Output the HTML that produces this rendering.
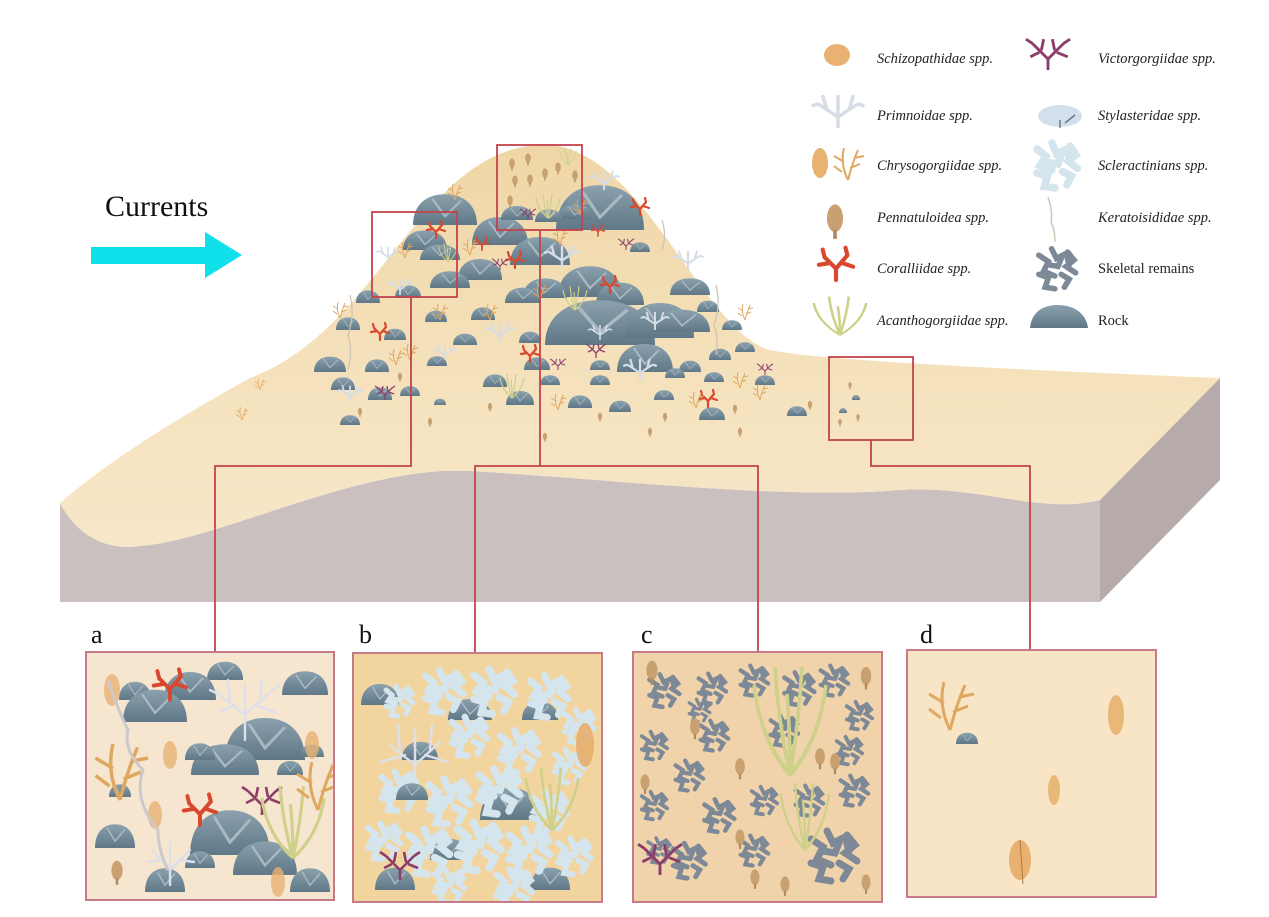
<!DOCTYPE html>
<html><head><meta charset="utf-8"><style>
html,body{margin:0;padding:0;background:#fff;}
svg{display:block;}
text{font-family:"Liberation Serif",serif;}
.lg{font-size:14.5px;font-style:italic;fill:#222;}
</style></head><body>
<svg width="1269" height="917" viewBox="0 0 1269 917" xmlns="http://www.w3.org/2000/svg">
<defs>
<linearGradient id="sand" x1="0" y1="0" x2="0" y2="1">
<stop offset="0" stop-color="#efd6a6"/><stop offset="0.6" stop-color="#f5e2bd"/><stop offset="1" stop-color="#f7e7c8"/>
</linearGradient>
<linearGradient id="rockg" x1="0" y1="0" x2="0" y2="1">
<stop offset="0" stop-color="#8ba1ae"/><stop offset="1" stop-color="#5f7786"/>
</linearGradient>
<clipPath id="ca"><rect x="86" y="652" width="248" height="248"/></clipPath>
<clipPath id="cb"><rect x="353" y="653" width="249" height="249"/></clipPath>
<clipPath id="cc"><rect x="633" y="652" width="249" height="250"/></clipPath>
<g id="rk"><path d="M-10,0 C-10,-9 -6,-14 0,-14 C6,-14 10,-9 10,0 Z" fill="url(#rockg)"/><path d="M-4,-12 L0,-4 L5,-11" stroke="#a8b9c3" stroke-width="0.8" fill="none"/></g>
<g id="sk" stroke="#7d8996" stroke-width="3.5" stroke-linecap="round" fill="none">
<path d="M-12,-8 l6,4 l-3,6 l7,3 M-4,-12 l3,6 l6,-3 l2,7 M6,-10 l4,5 l-5,4 l6,4 M-12,4 l6,2 l-2,6 l6,1 M2,4 l5,3 l-3,5 M-6,-2 l6,1 l2,-5"/></g>
<g id="sc" stroke="#d5e5ee" stroke-width="5" stroke-linecap="round" fill="none">
<path d="M-14,-10 l6,5 l-4,6 l8,3 M-4,-14 l3,7 l7,-3 l2,8 M8,-12 l4,6 l-5,4 l6,5 M-14,6 l7,2 l-2,7 l7,1 M3,5 l6,3 l-3,6 M-7,-1 l7,1 l2,-6"/></g>
<g id="pen"><ellipse cx="0" cy="-6" rx="3.5" ry="6" fill="#c9a070"/><rect x="-0.8" y="-1" width="1.6" height="4" fill="#b08a60"/></g>
<g id="cor" stroke="#d9482e" stroke-width="2.2" stroke-linecap="round" fill="none"><path d="M0,0 L0,-6 L-6,-12 M0,-6 L6,-13 M-3,-9 L-9,-8 M3,-9 L9,-7 M-6,-12 L-7,-16 M6,-13 L5,-17"/></g>
<g id="vic" stroke="#8c3d6a" stroke-width="1.3" fill="none"><path d="M0,0 L0,-5 L-7,-12 M0,-5 L7,-12 M-4,-8 L-8,-6 M4,-8 L9,-6 M-3,-9 L-2,-14 M3,-9 L2,-14 M-7,-12 L-10,-14 M7,-12 L10,-14"/></g>
<g id="acn" stroke="#cfd08a" stroke-width="1.2" fill="none"><path d="M0,0 Q-10,-8 -12,-20 M0,0 Q-4,-12 -5,-24 M0,0 Q3,-12 4,-24 M0,0 Q10,-8 12,-20 M0,0 Q0,-10 -1,-18"/></g>
<g id="stl" stroke="#d6dde6" stroke-width="1.6" fill="none"><path d="M0,0 L0,-5 L-9,-11 M0,-5 L9,-11 M-5,-8 L-7,-15 M5,-8 L7,-15 M0,-5 L0,-15 M-9,-11 L-12,-10 M9,-11 L12,-10"/></g>
<g id="chr" stroke="#e0a760" stroke-width="1" fill="none"><path d="M0,0 Q-4,-8 -2,-16 M0,0 Q2,-8 5,-15 M-3,-4 L-7,-7 M-2,-9 L-7,-12 M1,-6 L6,-8 M3,-11 L8,-12"/></g>
</defs>

<text x="105" y="216" font-size="30" fill="#111">Currents</text>
<path d="M91,247 L205,247 L205,232 L242,255 L205,278 L205,264 L91,264 Z" fill="#0fe0ea"/>

<path d="M60,503 C80,540 110,550 140,546 C220,540 360,465 470,471 C600,478 780,500 900,490 C980,485 1040,515 1100,500 L1100,602 L60,602 Z" fill="#cbc0c0"/>
<path d="M1100,500 L1220,378 L1220,480 L1100,602 Z" fill="#b6aaaa"/>
<path d="M60,503 Q120,450 250,378 C380,330 420,150 540,145 C640,140 700,330 770,350 Q820,362 1220,378 L1100,500 C1040,515 980,485 900,490 C780,500 600,478 470,471 C360,465 220,540 140,546 C110,550 80,540 60,503 Z" fill="url(#sand)"/>

<g>
<use href="#rk" transform="translate(445,225) scale(3.2,2.2)"/>
<use href="#rk" transform="translate(500,245) scale(2.8,2)"/>
<use href="#rk" transform="translate(480,280) scale(2.2,1.5)"/>
<use href="#rk" transform="translate(425,250) scale(2.2,1.4)"/>
<use href="#rk" transform="translate(540,265) scale(3,2)"/>
<use href="#rk" transform="translate(600,230) scale(4.4,3.2)"/>
<use href="#rk" transform="translate(590,297) scale(3.2,2.2)"/>
<use href="#rk" transform="translate(545,298) scale(2.2,1.4)"/>
<use href="#rk" transform="translate(620,305) scale(2.4,1.6)"/>
<use href="#rk" transform="translate(600,345) scale(5.5,3.2)"/>
<use href="#rk" transform="translate(690,295) scale(2,1.2)"/>
<use href="#rk" transform="translate(660,338) scale(3.4,2.5)"/>
<use href="#rk" transform="translate(645,372) scale(2.8,2)"/>
<use href="#rk" transform="translate(682,332) scale(2.8,1.6)"/>
<use href="#rk" transform="translate(440,260) scale(2,1.1)"/>
<use href="#rk" transform="translate(450,288) scale(2,1.2)"/>
<use href="#rk" transform="translate(523,303) scale(1.8,1.1)"/>
<use href="#rk" transform="translate(575,219) scale(1.6,1)"/>
<use href="#rk" transform="translate(549,222) scale(1.4,0.9)"/>
<use href="#rk" transform="translate(517,220) scale(1.6,1)"/>
<use href="#rk" transform="translate(368,303) scale(1.2,0.9)"/>
<use href="#rk" transform="translate(408,298) scale(1.3,0.9)"/>
<use href="#rk" transform="translate(436,322) scale(1.1,0.8)"/>
<use href="#rk" transform="translate(348,330) scale(1.2,0.9)"/>
<use href="#rk" transform="translate(483,320) scale(1.2,0.9)"/>
<use href="#rk" transform="translate(530,343) scale(1.1,0.8)"/>
<use href="#rk" transform="translate(465,345) scale(1.2,0.8)"/>
<use href="#rk" transform="translate(437,366) scale(1,0.7)"/>
<use href="#rk" transform="translate(395,340) scale(1.1,0.8)"/>
<use href="#rk" transform="translate(330,372) scale(1.6,1.1)"/>
<use href="#rk" transform="translate(377,372) scale(1.2,0.9)"/>
<use href="#rk" transform="translate(343,390) scale(1.2,0.9)"/>
<use href="#rk" transform="translate(380,400) scale(1.2,0.9)"/>
<use href="#rk" transform="translate(410,396) scale(1,0.7)"/>
<use href="#rk" transform="translate(350,425) scale(1,0.7)"/>
<use href="#rk" transform="translate(440,405) scale(0.6,0.45)"/>
<use href="#rk" transform="translate(495,387) scale(1.2,0.9)"/>
<use href="#rk" transform="translate(537,370) scale(1.3,0.9)"/>
<use href="#rk" transform="translate(550,385) scale(1,0.7)"/>
<use href="#rk" transform="translate(520,405) scale(1.4,1)"/>
<use href="#rk" transform="translate(580,408) scale(1.2,0.9)"/>
<use href="#rk" transform="translate(620,412) scale(1.1,0.8)"/>
<use href="#rk" transform="translate(600,385) scale(1,0.7)"/>
<use href="#rk" transform="translate(600,370) scale(1,0.7)"/>
<use href="#rk" transform="translate(690,372) scale(1.1,0.8)"/>
<use href="#rk" transform="translate(720,360) scale(1.1,0.8)"/>
<use href="#rk" transform="translate(714,382) scale(1,0.7)"/>
<use href="#rk" transform="translate(745,352) scale(1,0.7)"/>
<use href="#rk" transform="translate(675,378) scale(1,0.7)"/>
<use href="#rk" transform="translate(712,420) scale(1.3,0.9)"/>
<use href="#rk" transform="translate(765,385) scale(1,0.7)"/>
<use href="#rk" transform="translate(797,416) scale(1,0.7)"/>
<use href="#rk" transform="translate(664,400) scale(1,0.7)"/>
<use href="#rk" transform="translate(708,312) scale(1.1,0.8)"/>
<use href="#rk" transform="translate(732,330) scale(1,0.7)"/>
<use href="#rk" transform="translate(640,252) scale(1,0.7)"/>
<use href="#rk" transform="translate(843,413) scale(0.4,0.35)"/>
<use href="#rk" transform="translate(856,400) scale(0.4,0.35)"/>
<use href="#cor" transform="translate(436,238)"/>
<use href="#cor" transform="translate(482,250) scale(0.8)"/>
<use href="#cor" transform="translate(515,268)"/>
<use href="#cor" transform="translate(640,215)"/>
<use href="#cor" transform="translate(610,293)"/>
<use href="#cor" transform="translate(380,340)"/>
<use href="#cor" transform="translate(530,362)"/>
<use href="#cor" transform="translate(708,407)"/>
<use href="#cor" transform="translate(598,236) scale(0.7)"/>
<use href="#vic" transform="translate(385,400)"/>
<use href="#vic" transform="translate(558,370) scale(0.8)"/>
<use href="#vic" transform="translate(596,358)"/>
<use href="#vic" transform="translate(765,375) scale(0.8)"/>
<use href="#vic" transform="translate(528,220) scale(0.8)"/>
<use href="#vic" transform="translate(500,270) scale(0.8)"/>
<use href="#vic" transform="translate(626,250) scale(0.8)"/>
<use href="#acn" transform="translate(548,218)"/>
<use href="#acn" transform="translate(512,398)"/>
<use href="#acn" transform="translate(575,310)"/>
<use href="#acn" transform="translate(448,262) scale(0.8)"/>
<use href="#acn" transform="translate(568,165) scale(0.7)"/>
<use href="#stl" transform="translate(604,190) scale(1.3)"/>
<use href="#stl" transform="translate(688,270) scale(1.3)"/>
<use href="#stl" transform="translate(562,268) scale(1.5)"/>
<use href="#stl" transform="translate(500,342) scale(1.3)"/>
<use href="#stl" transform="translate(640,380) scale(1.4)"/>
<use href="#stl" transform="translate(655,330) scale(1.2)"/>
<use href="#stl" transform="translate(388,262)"/>
<use href="#stl" transform="translate(400,295) scale(1.1)"/>
<use href="#stl" transform="translate(350,402) scale(1.1)"/>
<use href="#stl" transform="translate(600,340)"/>
<use href="#stl" transform="translate(445,360)"/>
<use href="#chr" transform="translate(455,200)"/>
<use href="#chr" transform="translate(405,258)"/>
<use href="#chr" transform="translate(470,255)"/>
<use href="#chr" transform="translate(340,318)"/>
<use href="#chr" transform="translate(396,365)"/>
<use href="#chr" transform="translate(490,320)"/>
<use href="#chr" transform="translate(558,410)"/>
<use href="#chr" transform="translate(540,300)"/>
<use href="#chr" transform="translate(560,245)"/>
<use href="#chr" transform="translate(580,215)"/>
<use href="#chr" transform="translate(696,408)"/>
<use href="#chr" transform="translate(740,388)"/>
<use href="#chr" transform="translate(760,400)"/>
<use href="#chr" transform="translate(440,320)"/>
<use href="#chr" transform="translate(745,320)"/>
<use href="#chr" transform="translate(260,390) scale(0.7)"/>
<use href="#chr" transform="translate(242,420) scale(0.8)"/>
<use href="#chr" transform="translate(410,360)"/>
<use href="#pen" transform="translate(512,168) scale(0.8)"/>
<use href="#pen" transform="translate(528,163) scale(0.8)"/>
<use href="#pen" transform="translate(515,185) scale(0.8)"/>
<use href="#pen" transform="translate(530,184) scale(0.8)"/>
<use href="#pen" transform="translate(545,178) scale(0.8)"/>
<use href="#pen" transform="translate(558,172) scale(0.8)"/>
<use href="#pen" transform="translate(575,180) scale(0.8)"/>
<use href="#pen" transform="translate(510,205) scale(0.8)"/>
<use href="#pen" transform="translate(360,415) scale(0.6)"/>
<use href="#pen" transform="translate(430,425) scale(0.6)"/>
<use href="#pen" transform="translate(490,410) scale(0.6)"/>
<use href="#pen" transform="translate(545,440) scale(0.6)"/>
<use href="#pen" transform="translate(600,420) scale(0.6)"/>
<use href="#pen" transform="translate(665,420) scale(0.6)"/>
<use href="#pen" transform="translate(735,412) scale(0.6)"/>
<use href="#pen" transform="translate(740,435) scale(0.6)"/>
<use href="#pen" transform="translate(650,435) scale(0.6)"/>
<use href="#pen" transform="translate(810,408) scale(0.6)"/>
<use href="#pen" transform="translate(850,388) scale(0.5)"/>
<use href="#pen" transform="translate(858,420) scale(0.5)"/>
<use href="#pen" transform="translate(840,425) scale(0.5)"/>
<use href="#pen" transform="translate(400,380) scale(0.6)"/>
<path d="M350,295 q5,20 -2,40 q5,15 0,35" stroke="#ccc2b2" stroke-width="1.2" fill="none"/>
<path d="M716,285 q5,20 -2,40 q5,15 2,30" stroke="#ccc2b2" stroke-width="1.2" fill="none"/>
<path d="M662,220 q5,15 0,30" stroke="#ccc2b2" stroke-width="1.2" fill="none"/>
</g>

<g fill="none" stroke="#c4434b" stroke-width="1.8">
<rect x="372" y="212" width="85" height="85"/>
<rect x="497" y="145" width="85" height="85"/>
<rect x="829" y="357" width="84" height="83"/>
<path d="M411,297 V466 H215 V652"/>
<path d="M540,230 V466"/>
<path d="M475,652 V466 H758 V652"/>
<path d="M871,440 V466 H1030 V650"/>
</g>

<text x="91" y="643" font-size="26" fill="#111">a</text>
<text x="359" y="643" font-size="26" fill="#111">b</text>
<text x="641" y="643" font-size="26" fill="#111">c</text>
<text x="920" y="643" font-size="26" fill="#111">d</text>

<!-- panel a -->
<rect x="86" y="652" width="248" height="248" fill="#f6e6cf"/>
<g clip-path="url(#ca)">
<use href="#rk" transform="translate(225,680) scale(1.8,1.3)"/>
<use href="#rk" transform="translate(190,700) scale(2.6,2)"/>
<use href="#rk" transform="translate(135,700) scale(1.6,1.3)"/>
<use href="#rk" transform="translate(305,695) scale(2.3,1.7)"/>
<use href="#rk" transform="translate(155,722) scale(3.2,2.3)"/>
<use href="#rk" transform="translate(265,760) scale(4,3)"/>
<use href="#rk" transform="translate(225,775) scale(3.4,2.2)"/>
<use href="#rk" transform="translate(200,760) scale(1.5,1.2)"/>
<use href="#rk" transform="translate(312,757) scale(1.2,0.9)"/>
<use href="#rk" transform="translate(290,775) scale(1.3,1)"/>
<use href="#rk" transform="translate(120,797) scale(1.1,0.9)"/>
<use href="#rk" transform="translate(115,848) scale(2,1.7)"/>
<use href="#rk" transform="translate(230,855) scale(4,3.2)"/>
<use href="#rk" transform="translate(265,875) scale(3.2,2.4)"/>
<use href="#rk" transform="translate(200,868) scale(1.5,1.2)"/>
<use href="#rk" transform="translate(165,892) scale(2,1.7)"/>
<use href="#rk" transform="translate(310,892) scale(2,1.7)"/>
<g stroke="#dde0ea" stroke-width="2.4" fill="none" stroke-linecap="round">
<path d="M245,740 L245,715 L220,695 M245,715 L270,692 M235,705 L220,712 M255,705 L275,712 M230,700 L228,680 M260,700 L262,680 M245,715 L245,685 M220,695 L210,690 M270,692 L280,686"/>
<path d="M170,885 L170,870 L152,850 M170,870 L190,850 M160,860 L148,862 M180,860 L194,862 M170,870 L170,842"/>
</g>
<use href="#cor" transform="translate(170,700) scale(1.8)"/>
<use href="#cor" transform="translate(200,825) scale(1.8)"/>
<use href="#vic" transform="translate(262,815) scale(2)"/>
<use href="#acn" transform="translate(293,858) scale(2.6,3)"/>
<ellipse cx="112" cy="690" rx="8" ry="16" fill="#e8b272" opacity="0.8"/>
<use href="#chr" transform="translate(120,800) scale(3.5)"/>
<use href="#chr" transform="translate(318,810) scale(3)"/>
<ellipse cx="170" cy="755" rx="7" ry="14" fill="#e8b272" opacity="0.8"/>
<ellipse cx="312" cy="745" rx="7" ry="14" fill="#e8b272" opacity="0.8"/>
<ellipse cx="155" cy="815" rx="7" ry="14" fill="#e8b272" opacity="0.8"/>
<ellipse cx="278" cy="882" rx="7" ry="15" fill="#e8b272" opacity="0.8"/>
<use href="#pen" transform="translate(117,880) scale(1.6)"/>
<path d="M108,680 q10,30 20,50 q-5,20 15,40 q-10,30 15,60 q0,20 10,40" stroke="#ccc8cc" stroke-width="3" fill="none"/>
</g>
<rect x="86" y="652" width="248" height="248" fill="none" stroke="#c77a8a" stroke-width="2"/>

<!-- panel b -->
<rect x="353" y="653" width="249" height="249" fill="#f2d49e"/>
<g clip-path="url(#cb)">
<use href="#rk" transform="translate(380,705) scale(1.9,1.5)"/>
<use href="#rk" transform="translate(470,720) scale(2.2,1.5)"/>
<use href="#rk" transform="translate(540,720) scale(1.8,1.3)"/>
<use href="#rk" transform="translate(420,760) scale(1.8,1.3)"/>
<use href="#rk" transform="translate(510,820) scale(3,2.3)"/>
<use href="#rk" transform="translate(450,860) scale(2,1.5)"/>
<use href="#rk" transform="translate(395,890) scale(2,1.6)"/>
<use href="#rk" transform="translate(550,890) scale(2,1.6)"/>
<use href="#sc" transform="translate(445,690) scale(1.4)"/>
<use href="#sc" transform="translate(495,690) scale(1.5)"/>
<use href="#sc" transform="translate(550,695) scale(1.4)"/>
<use href="#sc" transform="translate(580,725) scale(1.1)"/>
<use href="#sc" transform="translate(470,735) scale(1.3)"/>
<use href="#sc" transform="translate(520,750) scale(1.4)"/>
<use href="#sc" transform="translate(570,765) scale(1.1)"/>
<use href="#sc" transform="translate(400,790) scale(1.3)"/>
<use href="#sc" transform="translate(450,800) scale(1.5)"/>
<use href="#sc" transform="translate(500,790) scale(1.5)"/>
<use href="#sc" transform="translate(550,810) scale(1.3)"/>
<use href="#sc" transform="translate(385,840) scale(1.2)"/>
<use href="#sc" transform="translate(430,850) scale(1.5)"/>
<use href="#sc" transform="translate(480,845) scale(1.6)"/>
<use href="#sc" transform="translate(530,850) scale(1.5)"/>
<use href="#sc" transform="translate(575,855) scale(1.2)"/>
<use href="#sc" transform="translate(450,885) scale(1.1)"/>
<use href="#sc" transform="translate(515,888) scale(1.3)"/>
<use href="#sc" transform="translate(400,700) scale(1)"/>
<g stroke="#dde0ea" stroke-width="2.4" fill="none" stroke-linecap="round">
<path d="M415,790 L415,765 L390,745 M415,765 L440,742 M405,755 L380,762 M425,755 L448,762 M400,750 L398,725 M430,750 L432,725 M415,765 L415,730"/></g>
<use href="#rk" transform="translate(412,800) scale(1.6,1.2)"/>
<use href="#acn" transform="translate(552,830) scale(2.2,2.6)"/>
<use href="#vic" transform="translate(400,880) scale(2)"/>
<ellipse cx="585" cy="745" rx="9" ry="22" fill="#e6ac68" opacity="0.85"/>
</g>
<rect x="353" y="653" width="249" height="249" fill="none" stroke="#c77a8a" stroke-width="2"/>

<!-- panel c -->
<rect x="633" y="652" width="249" height="250" fill="#f0d3aa"/>
<g clip-path="url(#cc)">
<use href="#sk" transform="translate(665,690) scale(1.3)"/>
<use href="#sk" transform="translate(713,688) scale(1.2)"/>
<use href="#sk" transform="translate(755,680) scale(1.2)"/>
<use href="#sk" transform="translate(800,688) scale(1.3)"/>
<use href="#sk" transform="translate(835,680) scale(1.2)"/>
<use href="#sk" transform="translate(860,715) scale(1.1)"/>
<use href="#sk" transform="translate(655,745) scale(1.1)"/>
<use href="#sk" transform="translate(715,735) scale(1.2)"/>
<use href="#sk" transform="translate(785,730) scale(1.2)"/>
<use href="#sk" transform="translate(850,750) scale(1.1)"/>
<use href="#sk" transform="translate(690,775) scale(1.2)"/>
<use href="#sk" transform="translate(655,805) scale(1.1)"/>
<use href="#sk" transform="translate(720,815) scale(1.3)"/>
<use href="#sk" transform="translate(765,800) scale(1.1)"/>
<use href="#sk" transform="translate(810,800) scale(1.2)"/>
<use href="#sk" transform="translate(855,790) scale(1.2)"/>
<use href="#sk" transform="translate(690,860) scale(1.4)"/>
<use href="#sk" transform="translate(755,850) scale(1.2)"/>
<use href="#sk" transform="translate(835,855) scale(2)"/>
<use href="#sk" transform="translate(700,710) scale(0.9)"/>
<use href="#sk" transform="translate(660,850) scale(1)"/>
<use href="#acn" transform="translate(790,775) scale(3,4.5)"/>
<use href="#acn" transform="translate(805,850) scale(2,2.8)"/>
<use href="#vic" transform="translate(660,875) scale(2.2)"/>
<use href="#pen" transform="translate(652,680) scale(1.6)"/>
<use href="#pen" transform="translate(866,685) scale(1.5)"/>
<use href="#pen" transform="translate(695,735) scale(1.4)"/>
<use href="#pen" transform="translate(740,775) scale(1.4)"/>
<use href="#pen" transform="translate(820,765) scale(1.4)"/>
<use href="#pen" transform="translate(835,770) scale(1.4)"/>
<use href="#pen" transform="translate(645,790) scale(1.3)"/>
<use href="#pen" transform="translate(740,845) scale(1.3)"/>
<use href="#pen" transform="translate(755,885) scale(1.3)"/>
<use href="#pen" transform="translate(785,892) scale(1.3)"/>
<use href="#pen" transform="translate(866,890) scale(1.3)"/>
</g>
<rect x="633" y="652" width="249" height="250" fill="none" stroke="#c77a8a" stroke-width="2"/>

<!-- panel d -->
<rect x="907" y="650" width="249" height="247" fill="#f7e5c6" stroke="#c77a8a" stroke-width="2"/>
<use href="#chr" transform="translate(950,730) scale(3)"/>
<use href="#rk" transform="translate(967,744) scale(1.1,0.8)"/>
<ellipse cx="1116" cy="715" rx="8" ry="20" fill="#e6b06a" opacity="0.85"/>
<ellipse cx="1054" cy="790" rx="6" ry="15" fill="#e6b06a" opacity="0.85"/>
<ellipse cx="1020" cy="860" rx="11" ry="20" fill="#e6a860" opacity="0.85"/>
<line x1="1020" y1="840" x2="1023" y2="884" stroke="#b07a40"/>

<!-- legend -->
<ellipse cx="837" cy="55" rx="13" ry="11" fill="#eab272"/>
<use href="#vic" transform="translate(1048,70) scale(2.2)"/>
<use href="#stl" transform="translate(838,128) scale(2.2)"/>
<ellipse cx="1060" cy="116" rx="22" ry="11" fill="#d4dfec"/>
<path d="M1060,128 L1060,120 M1065,123 l10,-8" stroke="#6a7890" stroke-width="1.5"/>
<ellipse cx="820" cy="163" rx="8" ry="15" fill="#e8b270"/>
<use href="#chr" transform="translate(848,180) scale(2)"/>
<use href="#sc" transform="translate(1058,164) scale(1.5)"/>
<use href="#pen" transform="translate(835,232) scale(2.3)"/>
<path d="M1048,197 q5,15 3,25 q4,8 4,20" stroke="#cfc6b6" stroke-width="1.5" fill="none"/>
<use href="#cor" transform="translate(836,280) scale(1.9)"/>
<use href="#sk" transform="translate(1058,268) scale(1.6)"/>
<use href="#acn" transform="translate(840,335) scale(2.2,1.6)"/>
<path d="M1030,328 C1032,310 1045,305 1058,305 C1072,305 1086,312 1088,328 Z" fill="url(#rockg)"/>
<text class="lg" x="877" y="63">Schizopathidae spp.</text>
<text class="lg" x="877" y="120">Primnoidae spp.</text>
<text class="lg" x="877" y="170">Chrysogorgiidae spp.</text>
<text class="lg" x="877" y="222">Pennatuloidea spp.</text>
<text class="lg" x="877" y="273">Coralliidae spp.</text>
<text class="lg" x="877" y="325">Acanthogorgiidae spp.</text>
<text class="lg" x="1098" y="63">Victorgorgiidae spp.</text>
<text class="lg" x="1098" y="120">Stylasteridae spp.</text>
<text class="lg" x="1098" y="170">Scleractinians spp.</text>
<text class="lg" x="1098" y="222">Keratoisididae spp.</text>
<text x="1098" y="273" font-size="14.5" fill="#222">Skeletal remains</text>
<text x="1098" y="325" font-size="14.5" fill="#222">Rock</text>
</svg>
</body></html>
